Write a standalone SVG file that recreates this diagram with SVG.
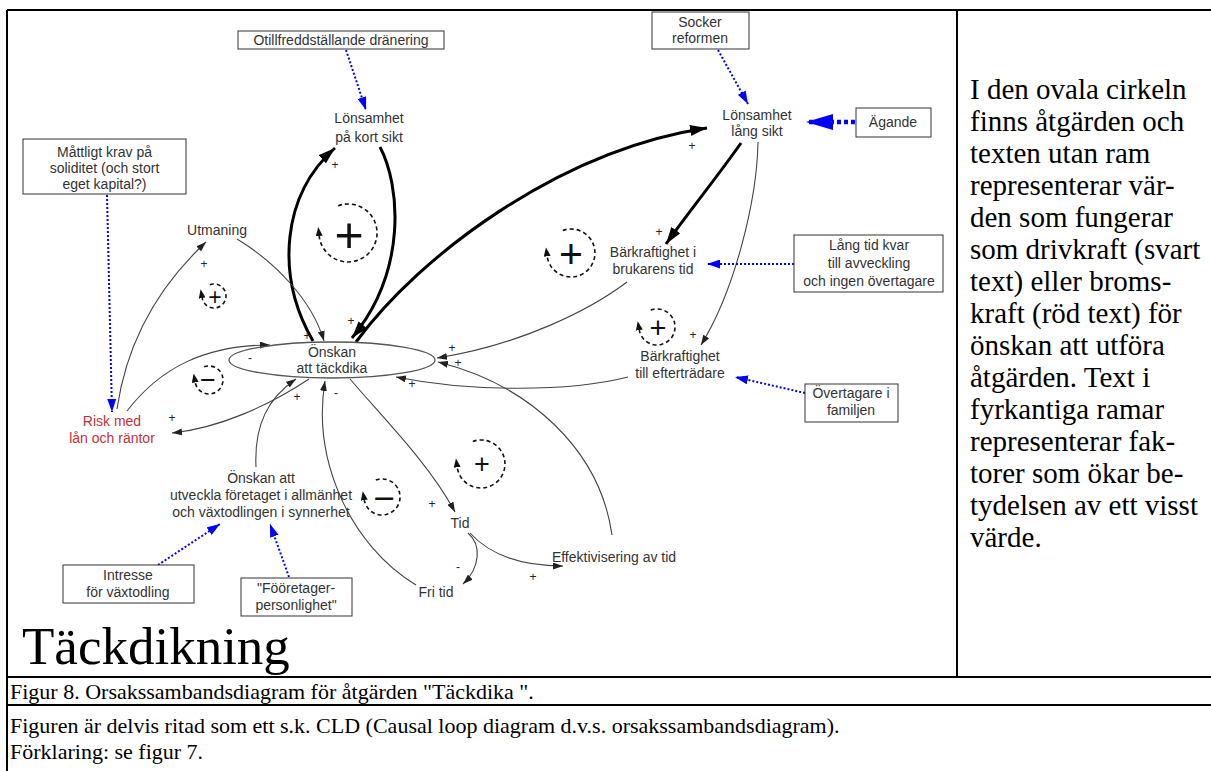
<svg xmlns="http://www.w3.org/2000/svg" width="1211" height="771" viewBox="0 0 1211 771">
<style>
.lbl{font-family:"Liberation Sans",Arial,sans-serif;font-size:14px;fill:#333;text-anchor:middle}
.red{fill:#c3303a}
.box{fill:#fff;stroke:#333;stroke-width:1}
.thin{fill:none;stroke:#444;stroke-width:1.1}
.thick{fill:none;stroke:#000;stroke-width:3}
.blue{fill:none;stroke:#0000ff;stroke-width:2;stroke-dasharray:2 2}
.sign{font-family:"Liberation Sans",Arial,sans-serif;font-size:12px;fill:#222;text-anchor:middle}
.loop{fill:none;stroke:#111;stroke-width:1.6;stroke-dasharray:4 3}
.sym{font-family:"Liberation Sans",Arial,sans-serif;fill:#111;text-anchor:middle;dominant-baseline:central}
.serif{font-family:"Liberation Serif","Times New Roman",serif;fill:#000}
.frame{stroke:#000;stroke-width:2;fill:none}
</style>
<defs>
<marker id="ah" viewBox="0 0 10 10" refX="10" refY="5" markerWidth="10" markerHeight="7" orient="auto" markerUnits="userSpaceOnUse" preserveAspectRatio="none"><path d="M0,0L10,5L0,10z" fill="#222"/></marker>
<marker id="ahT" viewBox="0 0 10 10" refX="10" refY="5" markerWidth="17" markerHeight="11" orient="auto" markerUnits="userSpaceOnUse" preserveAspectRatio="none"><path d="M0,0L10,5L0,10z" fill="#000"/></marker>
<marker id="ahB" viewBox="0 0 10 10" refX="10" refY="5" markerWidth="13" markerHeight="9" orient="auto" markerUnits="userSpaceOnUse" preserveAspectRatio="none"><path d="M0,0L10,5L0,10z" fill="#0000ff"/></marker>
<marker id="ahBB" viewBox="0 0 10 10" refX="10" refY="5" markerWidth="27" markerHeight="16" orient="auto" markerUnits="userSpaceOnUse" preserveAspectRatio="none"><path d="M0,0L10,5L0,10z" fill="#0000ff"/></marker>
<marker id="la" viewBox="0 0 10 10" refX="0" refY="5" markerWidth="9" markerHeight="7" orient="auto" markerUnits="userSpaceOnUse" preserveAspectRatio="none"><path d="M0,0L10,5L0,10z" fill="#111"/></marker>
</defs>
<rect width="1211" height="771" fill="#fff"/>
<g id="frame" class="frame">
<line x1="7" y1="10" x2="7" y2="771"/>
<line x1="7" y1="10" x2="1211" y2="10"/>
<line x1="957" y1="10" x2="957" y2="677"/>
<line x1="7" y1="677" x2="1211" y2="677"/>
<line x1="7" y1="705" x2="1211" y2="705"/>
</g>
<g id="connectors">
<path class="thick" d="M313,341 C275,275 282,195 335,148" marker-end="url(#ahT)"/>
<path class="thick" d="M380,147 C400,185 408,270 352,338" marker-end="url(#ahT)"/>
<path class="thick" d="M356,342 C420,255 560,150 707,128" marker-end="url(#ahT)"/>
<path class="thick" d="M741,143 C715,180 690,210 666,244" marker-end="url(#ahT)"/>
<path class="thin" d="M758,142 C757,200 735,290 701,345" marker-end="url(#ah)"/>
<path class="thin" d="M627,282 C590,310 520,345 437,358" marker-end="url(#ah)"/>
<path class="thin" d="M628,377 C570,392 470,392 396,377" marker-end="url(#ah)"/>
<path class="thin" d="M612,535 C600,450 530,385 438,362" marker-end="url(#ah)"/>
<path class="thin" d="M350,379 C385,420 430,465 455,512" marker-end="url(#ah)"/>
<path class="thin" d="M468,533 C482,545 480,568 463,584" marker-end="url(#ah)"/>
<path class="thin" d="M470,533 C490,555 520,566 563,566" marker-end="url(#ah)"/>
<path class="thin" d="M416,585 C350,545 312,460 325,381" marker-end="url(#ah)"/>
<path class="thin" d="M256,467 C254,425 268,398 296,379" marker-end="url(#ah)"/>
<path class="thin" d="M309,379 C270,405 220,428 172,433" marker-end="url(#ah)"/>
<path class="thin" d="M127,411 C160,368 205,345 270,345" marker-end="url(#ah)"/>
<path class="thin" d="M117,409 C127,340 160,285 206,242" marker-end="url(#ah)"/>
<path class="thin" d="M237,239 C275,262 312,300 324,341" marker-end="url(#ah)"/>
<path class="blue" d="M346,50 L366,110" marker-end="url(#ahB)"/>
<path class="blue" d="M107,195 L112,412" marker-end="url(#ahB)"/>
<path class="blue" d="M718,50 L748,104" marker-end="url(#ahB)"/>
<path class="blue" d="M794,264 L707,264" marker-end="url(#ahB)"/>
<path class="blue" d="M805,393 L735,377" marker-end="url(#ahB)"/>
<path class="blue" d="M158,565 L220,524" marker-end="url(#ahB)"/>
<path class="blue" d="M289,577 L270,524" marker-end="url(#ahB)"/>
<path d="M855,122 L806,122" fill="none" stroke="#0000ff" stroke-width="4.5" stroke-dasharray="4 3" marker-end="url(#ahBB)"/>
</g>
<g id="signs" class="sign">
<text x="335" y="169">+</text>
<text x="351" y="325">+</text>
<text x="307" y="340">+</text>
<text x="250" y="362">-</text>
<text x="204" y="268">+</text>
<text x="172" y="422">+</text>
<text x="297" y="401">+</text>
<text x="336" y="397">-</text>
<text x="412" y="388">+</text>
<text x="452" y="352">+</text>
<text x="458" y="367">+</text>
<text x="432" y="508">+</text>
<text x="458" y="571">-</text>
<text x="533" y="581">+</text>
<text x="693" y="339">+</text>
<text x="659" y="236">+</text>
<text x="692" y="150">+</text>
</g>
<g id="loops">
<path class="loop" d="M338.1,205.7 A29,29 0 1 1 319.2,236" marker-end="url(#la)"/>
<text class="sym" x="349" y="235" font-size="50">+</text>
<path class="loop" d="M209.9,284.7 A12,12 0 1 1 202.2,298.1" marker-end="url(#la)"/>
<text class="sym" x="215" y="297" font-size="23">+</text>
<path class="loop" d="M204.2,366.8 A14,14 0 1 1 195.2,382.4" marker-end="url(#la)"/>
<text class="sym" x="208" y="380" font-size="27">−</text>
<path class="loop" d="M562.8,230.4 A24,24 0 1 1 547.2,256.3" marker-end="url(#la)"/>
<text class="sym" x="571" y="254" font-size="41">+</text>
<path class="loop" d="M650.8,310.1 A18,18 0 1 1 639.3,330.1" marker-end="url(#la)"/>
<text class="sym" x="658" y="328" font-size="29">+</text>
<path class="loop" d="M375.8,480.1 A18,18 0 1 1 364.3,500.1" marker-end="url(#la)"/>
<text class="sym" x="384" y="498" font-size="37">−</text>
<path class="loop" d="M472.8,441.4 A24,24 0 1 1 457.2,467.3" marker-end="url(#la)"/>
<text class="sym" x="482" y="464" font-size="27">+</text>
</g>
<g id="n-otillfreds"><rect class="box" x="238" y="31" width="206" height="18"/><text class="lbl" x="341" y="45">Otillfreddställande dränering</text></g>
<g id="n-lonsamhet-kort"><text class="lbl" x="369" y="123">Lönsamhet</text><text class="lbl" x="369" y="142">på kort sikt</text></g>
<g id="n-mattligt"><rect class="box" x="23" y="139" width="163" height="55"/><text class="lbl" x="104.5" y="157">Måttligt krav på</text><text class="lbl" x="104.5" y="173">soliditet (och stort</text><text class="lbl" x="104.5" y="189">eget kapital?)</text></g>
<g id="n-utmaning"><text class="lbl" x="217" y="235">Utmaning</text></g>
<g id="n-risk"><text class="lbl red" x="112" y="426">Risk med</text><text class="lbl red" x="112" y="443">lån och räntor</text></g>
<g id="n-onskan"><ellipse cx="332" cy="360" rx="103" ry="18" fill="none" stroke="#555" stroke-width="1.3"/><text class="lbl" x="332" y="357">Önskan</text><text class="lbl" x="332" y="373">att täckdika</text></g>
<g id="n-socker"><rect class="box" x="652" y="12" width="97" height="37"/><text class="lbl" x="700" y="27">Socker</text><text class="lbl" x="700" y="43">reformen</text></g>
<g id="n-lonsamhet-lang"><text class="lbl" x="757" y="120">Lönsamhet</text><text class="lbl" x="757" y="136">lång sikt</text></g>
<g id="n-agande"><rect class="box" x="856" y="108" width="75" height="29"/><text class="lbl" x="893" y="127">Ägande</text></g>
<g id="n-barkraft-brukare"><text class="lbl" x="653" y="257">Bärkraftighet i</text><text class="lbl" x="653" y="274">brukarens tid</text></g>
<g id="n-langtid"><rect class="box" x="794" y="235" width="149" height="57"/><text class="lbl" x="869" y="250">Lång tid kvar</text><text class="lbl" x="869" y="268">till avveckling</text><text class="lbl" x="869" y="286">och ingen övertagare</text></g>
<g id="n-barkraft-eftertradare"><text class="lbl" x="680" y="361">Bärkraftighet</text><text class="lbl" x="680" y="378">till efterträdare</text></g>
<g id="n-overtagare"><rect class="box" x="805" y="384" width="93" height="38"/><text class="lbl" x="851" y="398">Övertagare i</text><text class="lbl" x="851" y="415">familjen</text></g>
<g id="n-utveckla"><text class="lbl" x="261" y="483">Önskan att</text><text class="lbl" x="261" y="500">utveckla företaget i allmänhet</text><text class="lbl" x="261" y="517">och växtodlingen i synnerhet</text></g>
<g id="n-intresse"><rect class="box" x="63" y="565" width="131" height="38"/><text class="lbl" x="128" y="580">Intresse</text><text class="lbl" x="128" y="597">för växtodling</text></g>
<g id="n-foretager"><rect class="box" x="241" y="578" width="111" height="38"/><text class="lbl" x="296" y="593">"Fööretager-</text><text class="lbl" x="296" y="610">personlighet"</text></g>
<g id="n-tid"><text class="lbl" x="460" y="528">Tid</text></g>
<g id="n-fritid"><text class="lbl" x="436" y="597">Fri tid</text></g>
<g id="n-effektivisering"><text class="lbl" x="614" y="562">Effektivisering av tid</text></g>
<g id="title"><text class="serif" x="22" y="664" font-size="53">Täckdikning</text></g>
<g id="side-text" class="serif" font-size="29">
<text x="970" y="99">I den ovala cirkeln</text>
<text x="970" y="131">finns åtgärden och</text>
<text x="970" y="163">texten utan ram</text>
<text x="970" y="195">representerar vär-</text>
<text x="970" y="227">den som fungerar</text>
<text x="970" y="259">som drivkraft (svart</text>
<text x="970" y="291">text) eller broms-</text>
<text x="970" y="323">kraft (röd text) för</text>
<text x="970" y="355">önskan att utföra</text>
<text x="970" y="387">åtgärden. Text i</text>
<text x="970" y="419">fyrkantiga ramar</text>
<text x="970" y="451">representerar fak-</text>
<text x="970" y="483">torer som ökar be-</text>
<text x="970" y="515">tydelsen av ett visst</text>
<text x="970" y="547">värde.</text>
</g>
<g id="caption" class="serif" font-size="22">
<text x="10" y="699">Figur 8. Orsakssambandsdiagram för åtgärden "Täckdika ".</text>
<text x="10" y="733">Figuren är delvis ritad som ett s.k. CLD (Causal loop diagram d.v.s. orsakssambandsdiagram).</text>
<text x="10" y="759">Förklaring: se figur 7.</text>
</g>
</svg>
